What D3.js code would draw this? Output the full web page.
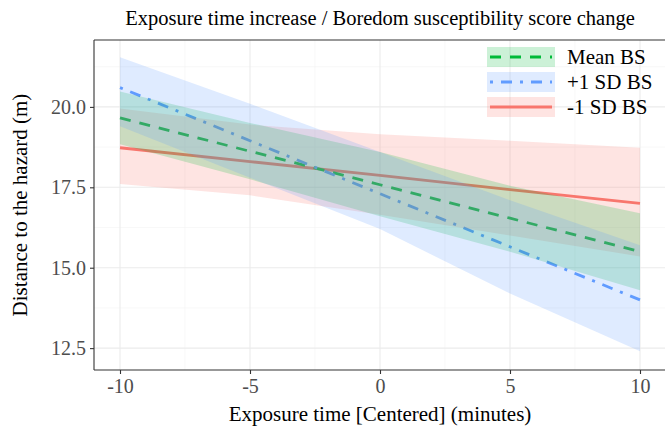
<!DOCTYPE html>
<html>
<head>
<meta charset="utf-8">
<script src="https://cdn.jsdelivr.net/npm/d3@7"></script>
<style>
  body { margin: 0; background: #fff; }
  svg { font-family: "Liberation Serif", "Times New Roman", serif; }
</style>
</head>
<body>
<svg width="665" height="431"></svg>
<script>
// exposure time (centered, minutes) at which the predictions were read
const xs = [-10, -5, 0, 5, 10];

// series: predicted distance and ribbon edges
const meanFit   = [19.66, 18.62, 17.58, 16.54, 15.50];
const meanLow   = [18.84, 17.75, 16.60, 15.50, 14.30];
const meanHigh  = [20.48, 19.50, 18.60, 17.55, 16.69];

const plusFit   = [20.60, 18.95, 17.30, 15.65, 14.00];
const plusLow   = [19.40, 17.80, 16.20, 14.20, 12.40];
const plusHigh  = [21.54, 20.10, 18.60, 17.10, 15.70];

const minusFit  = [18.73, 18.30, 17.87, 17.43, 17.00];
const minusLow  = [17.60, 17.25, 16.65, 16.00, 15.35];
const minusHigh = [19.95, 19.45, 19.15, 18.95, 18.73];

const seriesNames = ["Mean BS", "+1 SD BS", "-1 SD BS"];
const xTicks = [-10, -5, 0, 5, 10];
const yTicks = [12.5, 15.0, 17.5, 20.0];

const colors = { "Mean BS": "#00BA38", "+1 SD BS": "#619CFF", "-1 SD BS": "#F8766D" };
const dashes = { "Mean BS": "11,9", "+1 SD BS": "3,8,11,8", "-1 SD BS": null };

const series = [
  { name: "-1 SD BS", fit: minusFit, lo: minusLow, hi: minusHigh },
  { name: "Mean BS",  fit: meanFit,  lo: meanLow,  hi: meanHigh },
  { name: "+1 SD BS", fit: plusFit,  lo: plusLow,  hi: plusHigh }
];

const svg = d3.select("svg");
const pLeft = 94, pRight = 666, pTop = 40, pBottom = 370;

const x = d3.scaleLinear().domain([-11, 11]).range([pLeft, pRight]);
const y = d3.scaleLinear().domain([11.82, 22.08]).range([pBottom, pTop]);

// grid
const grid = svg.append("g");
const xMinor = [-7.5, -2.5, 2.5, 7.5];
const yMinor = [13.75, 16.25, 18.75, 21.25];
grid.selectAll(".xm").data(xMinor).join("line")
  .attr("x1", d => x(d)).attr("x2", d => x(d)).attr("y1", pTop).attr("y2", pBottom)
  .attr("stroke", "#F4F4F4").attr("stroke-width", 0.6);
grid.selectAll(".ym").data(yMinor).join("line")
  .attr("y1", d => y(d)).attr("y2", d => y(d)).attr("x1", pLeft).attr("x2", pRight)
  .attr("stroke", "#F4F4F4").attr("stroke-width", 0.6);
grid.selectAll(".xM").data(xTicks).join("line")
  .attr("x1", d => x(d)).attr("x2", d => x(d)).attr("y1", pTop).attr("y2", pBottom)
  .attr("stroke", "#EBEBEB").attr("stroke-width", 1.1);
grid.selectAll(".yM").data(yTicks).join("line")
  .attr("y1", d => y(d)).attr("y2", d => y(d)).attr("x1", pLeft).attr("x2", pRight)
  .attr("stroke", "#EBEBEB").attr("stroke-width", 1.1);

const line = d3.line().x((d, i) => x(xs[i])).y(d => y(d));
const area = d3.area()
  .x(d => x(d.x)).y0(d => y(d.lo)).y1(d => y(d.hi));

// lines first, ribbons over them (as in the reference)
series.forEach(s => {
  svg.append("path")
    .attr("d", line(s.fit))
    .attr("fill", "none")
    .attr("stroke", colors[s.name])
    .attr("stroke-width", 2.8)
    .attr("stroke-dasharray", dashes[s.name]);
});
series.forEach(s => {
  const pts = xs.map((v, i) => ({ x: v, lo: s.lo[i], hi: s.hi[i] }));
  svg.append("path")
    .attr("d", area(pts))
    .attr("fill", colors[s.name])
    .attr("fill-opacity", 0.2);
});

// axes
const xAxis = svg.append("g").attr("transform", `translate(0,${pBottom})`)
  .call(d3.axisBottom(x).tickValues(xTicks).tickSize(4).tickPadding(5).tickFormat(d => String(d)));
const yAxis = svg.append("g").attr("transform", `translate(${pLeft},0)`)
  .call(d3.axisLeft(y).tickValues(yTicks).tickSize(4).tickPadding(4).tickFormat(d3.format(".1f")));
[xAxis, yAxis].forEach(a => {
  a.select(".domain").attr("stroke", "#333").attr("stroke-width", 1.1);
  a.selectAll(".tick line").attr("stroke", "#333").attr("stroke-width", 1.1);
  a.selectAll(".tick text").attr("fill", "#4D4D4D")
    .style("font-size", "20px").style("font-family", "Liberation Serif, serif");
});
xAxis.select(".domain").attr("d", `M${pLeft},0H${pRight}`);
yAxis.select(".domain").attr("d", `M0,${pBottom}V${pTop}`);
// top border
svg.append("line").attr("x1", pLeft).attr("x2", pRight).attr("y1", pTop).attr("y2", pTop)
  .attr("stroke", "#333").attr("stroke-width", 1.1);

// titles
svg.append("text").attr("x", 380).attr("y", 25).attr("text-anchor", "middle")
  .style("font-size", "20.5px").text("Exposure time increase / Boredom susceptibility score change");
svg.append("text").attr("x", 380).attr("y", 421).attr("text-anchor", "middle")
  .style("font-size", "21px").text("Exposure time [Centered] (minutes)");
svg.append("text").attr("transform", `translate(27,${(pTop + pBottom) / 2}) rotate(-90)`)
  .attr("text-anchor", "middle")
  .style("font-size", "21px").text("Distance to the hazard (m)");

// legend
const legend = svg.append("g").attr("transform", "translate(487,47)");
seriesNames.forEach((n, i) => {
  const g = legend.append("g").attr("transform", `translate(0,${i * 25})`);
  g.append("rect").attr("width", 68).attr("height", 20)
    .attr("fill", colors[n]).attr("fill-opacity", 0.2);
  g.append("line").attr("x1", 3).attr("x2", 65).attr("y1", 10).attr("y2", 10)
    .attr("stroke", colors[n]).attr("stroke-width", 2.8)
    .attr("stroke-dasharray", dashes[n]);
  g.append("text").attr("x", 80).attr("y", 17)
    .style("font-size", "21px").text(n);
});
</script>
</body>
</html>
